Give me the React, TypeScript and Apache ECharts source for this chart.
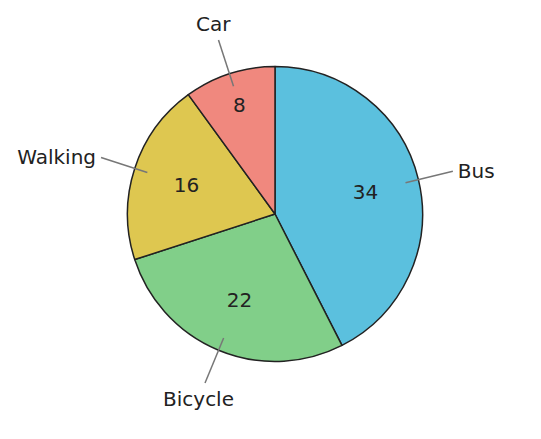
import { useEffect, useRef } from "react";
import * as echarts from "echarts";

// Travel mode share, clockwise from 12 o'clock
const CATEGORIES = ["Bus", "Bicycle", "Walking", "Car"];
const VALUES = [34, 22, 16, 8];
const COLORS = ["#5bc0de", "#81cf89", "#dec750", "#f0887e"];

const CX = 275;
const CY = 214;
const R = 147.5;
const FONT = "DejaVu Sans";
const FONT_SIZE = 20;

export default function App() {
  const chartRef = useRef<HTMLDivElement>(null);

  useEffect(() => {
    if (!chartRef.current) return;
    const chart = echarts.init(chartRef.current, null, { renderer: "svg" });

    const total = VALUES.reduce((s, v) => s + v, 0);
    let cum = 0;
    // value labels sit at the middle of a 1.22R ring; thin slices get pushed outward
    const valueData = CATEGORIES.map((name, i) => {
      const a = ((cum + VALUES[i] / 2) / total) * Math.PI * 2;
      cum += VALUES[i];
      const push = VALUES[i] / total < 0.15 ? R * 0.15 : 0;
      return {
        name,
        value: VALUES[i],
        label: { offset: [Math.sin(a) * push, -Math.cos(a) * push] },
      };
    });

    const baseData = CATEGORIES.map((name, i) => ({ name, value: VALUES[i] }));

    const option: echarts.EChartsOption = {
      animation: false,
      backgroundColor: "#ffffff",
      series: [
        {
          type: "pie",
          z: 1,
          center: [CX, CY],
          radius: R,
          startAngle: 90,
          clockwise: true,
          silent: true,
          data: baseData,
          color: COLORS,
          itemStyle: { borderColor: "#222222", borderWidth: 1.5 },
          label: { show: false },
          labelLine: { show: false },
        },
        {
          type: "pie",
          z: 3,
          center: [CX, CY],
          radius: [0, R * 1.22],
          startAngle: 90,
          clockwise: true,
          silent: true,
          data: valueData,
          itemStyle: { color: "transparent", borderWidth: 0 },
          label: {
            show: true,
            position: "inside",
            formatter: "{c}",
            fontFamily: FONT,
            fontSize: FONT_SIZE,
            color: "#222222",
          },
          labelLine: { show: false },
        },
        {
          type: "pie",
          z: 3,
          center: [CX, CY],
          radius: R * 0.91,
          startAngle: 90,
          clockwise: true,
          silent: true,
          avoidLabelOverlap: false,
          data: baseData,
          itemStyle: { color: "transparent", borderWidth: 0 },
          label: {
            show: true,
            position: "outside",
            formatter: "{b}",
            fontFamily: FONT,
            fontSize: FONT_SIZE,
            color: "#222222",
          },
          labelLine: {
            show: true,
            length: R * 0.33,
            length2: 0,
            lineStyle: { color: "#777777", width: 1.5 },
          },
          labelLayout: (p: any) => {
            const pts = p.labelLinePoints;
            if (!pts) return {};
            const a = pts[0];
            const b = pts[1];
            const end = pts[pts.length - 1];
            const len = Math.hypot(b[0] - a[0], b[1] - a[1]) || 1;
            const ux = (b[0] - a[0]) / len;
            const uy = (b[1] - a[1]) / len;
            if (Math.abs(ux) > Math.abs(uy)) {
              return {
                x: end[0] + (ux > 0 ? 5 : -5),
                y: end[1],
                align: ux > 0 ? "left" : "right",
                verticalAlign: "middle",
                labelLinePoints: pts,
              };
            }
            return {
              x: end[0] + ux * 17,
              y: end[1] + uy * 17,
              align: "center",
              verticalAlign: "middle",
              labelLinePoints: pts,
            };
          },
        },
      ],
    };

    chart.setOption(option);
    return () => chart.dispose();
  }, []);

  return (
    <div
      ref={chartRef}
      style={{ position: "absolute", left: 0, top: 0, width: 541, height: 439 }}
    />
  );
}
